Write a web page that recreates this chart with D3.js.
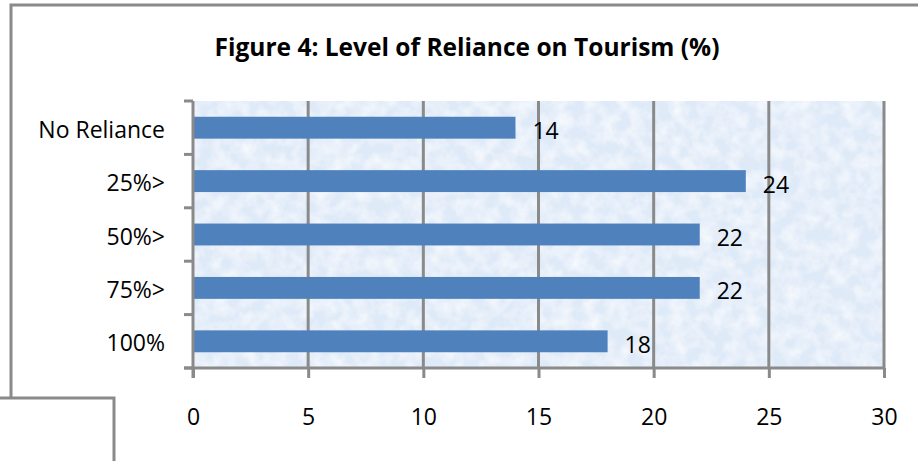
<!DOCTYPE html>
<html>
<head>
<meta charset="utf-8">
<script src="https://cdn.jsdelivr.net/npm/d3@7"></script>
<style>
  body { margin: 0; background: #fff; }
  svg { display: block; font-family: "Open Sans", "Noto Sans", sans-serif; }
</style>
</head>
<body>
<svg id="chart" width="918" height="461"></svg>
<script>
// Data
const categories = ["No Reliance", "25%>", "50%>", "75%>", "100%"];
const values = [14, 24, 22, 22, 18];
const xTicks = [0, 5, 10, 15, 20, 25, 30];
const title = "Figure 4: Level of Reliance on Tourism (%)";

const svg = d3.select("#chart");
const plot = { left: 193, right: 884, top: 101, bottom: 368 };
const gray = "#8a8a8a";
const fontSize = 23;

// Outer frame (its right side is cut off by the picture) and the box below
svg.append("path")
  .attr("d", "M11,398 V5 H930")
  .attr("fill", "none").attr("stroke", gray).attr("stroke-width", 3);
svg.append("path")
  .attr("d", "M-5,398 H114 V470")
  .attr("fill", "none").attr("stroke", gray).attr("stroke-width", 3);

// Title
svg.append("text")
  .attr("x", 467).attr("y", 56)
  .attr("text-anchor", "middle")
  .attr("font-weight", "bold")
  .attr("font-size", 25)
  .attr("textLength", 505)
  .attr("lengthAdjust", "spacingAndGlyphs")
  .attr("fill", "#000")
  .text(title);

// Scales
const x = d3.scaleLinear().domain([0, 30]).range([plot.left, plot.right]);
const y = d3.scaleBand().domain(categories).range([plot.top, plot.bottom]).padding(0);
const barH = y.bandwidth() * 0.41;

// Textured light blue plot background
const defs = svg.append("defs");
const f = defs.append("filter").attr("id", "paper")
  .attr("x", 0).attr("y", 0).attr("width", 1).attr("height", 1);
f.append("feTurbulence").attr("type", "fractalNoise")
  .attr("baseFrequency", 0.07).attr("numOctaves", 3).attr("seed", 7).attr("result", "noise");
f.append("feColorMatrix").attr("in", "noise").attr("type", "matrix")
  .attr("values", "0 0 0 0 1  0 0 0 0 1  0 0 0 0 1  1.3 0 0 0 -0.45")
  .attr("result", "wash");
f.append("feComposite").attr("in", "wash").attr("in2", "SourceGraphic").attr("operator", "in").attr("result", "clip");
f.append("feMerge").call(m => {
  m.append("feMergeNode").attr("in", "SourceGraphic");
  m.append("feMergeNode").attr("in", "clip");
});

svg.append("rect")
  .attr("x", plot.left).attr("y", plot.top)
  .attr("width", plot.right - plot.left).attr("height", plot.bottom - plot.top)
  .attr("fill", "#dfeaf8")
  .attr("filter", "url(#paper)");

// Vertical gridlines
svg.append("g")
  .selectAll("line")
  .data(xTicks.slice(1))
  .join("line")
  .attr("x1", d => x(d)).attr("x2", d => x(d))
  .attr("y1", plot.top).attr("y2", plot.bottom)
  .attr("stroke", gray).attr("stroke-width", 3);

// Bars
svg.append("g")
  .selectAll("rect")
  .data(values)
  .join("rect")
  .attr("x", x(0))
  .attr("y", (d, i) => y(categories[i]) + (y.bandwidth() - barH) / 2)
  .attr("width", d => x(d) - x(0))
  .attr("height", barH)
  .attr("fill", "#4f81bd");

// Data labels
svg.append("g")
  .selectAll("text")
  .data(values)
  .join("text")
  .attr("x", d => x(d) + 17)
  .attr("y", (d, i) => y(categories[i]) + y.bandwidth() / 2 + 11.5)
  .attr("font-size", fontSize)
  .attr("fill", "#000")
  .text(d => d);

// X axis
const xAxis = svg.append("g")
  .attr("transform", `translate(0,${plot.bottom})`)
  .call(d3.axisBottom(x).tickValues(xTicks).tickSize(10).tickPadding(31).tickFormat(d3.format("d")));
xAxis.select(".domain").attr("stroke", gray).attr("stroke-width", 3).attr("d", `M${plot.left - 9},0H${plot.right}`);
xAxis.selectAll(".tick line").attr("stroke", gray).attr("stroke-width", 3);
xAxis.selectAll(".tick text").attr("font-size", fontSize).attr("fill", "#000")
  .attr("font-family", "'Open Sans', 'Noto Sans', sans-serif");

// Y axis: ticks sit on category boundaries
const yAxis = svg.append("g")
  .attr("transform", `translate(${plot.left},0)`);
yAxis.append("line")
  .attr("x1", 0).attr("x2", 0).attr("y1", plot.top).attr("y2", plot.bottom + 10)
  .attr("stroke", gray).attr("stroke-width", 3);
yAxis.selectAll("line.tick")
  .data(categories.concat(["end"]))
  .join("line")
  .attr("class", "tick")
  .attr("x1", -9).attr("x2", 0)
  .attr("y1", (d, i) => plot.top + i * y.step())
  .attr("y2", (d, i) => plot.top + i * y.step())
  .attr("stroke", gray).attr("stroke-width", 3);
yAxis.selectAll("text")
  .data(categories)
  .join("text")
  .attr("x", -28)
  .attr("y", d => y(d) + y.bandwidth() / 2 + 10)
  .attr("text-anchor", "end")
  .attr("font-size", fontSize)
  .attr("fill", "#000")
  .text(d => d);
</script>
</body>
</html>
